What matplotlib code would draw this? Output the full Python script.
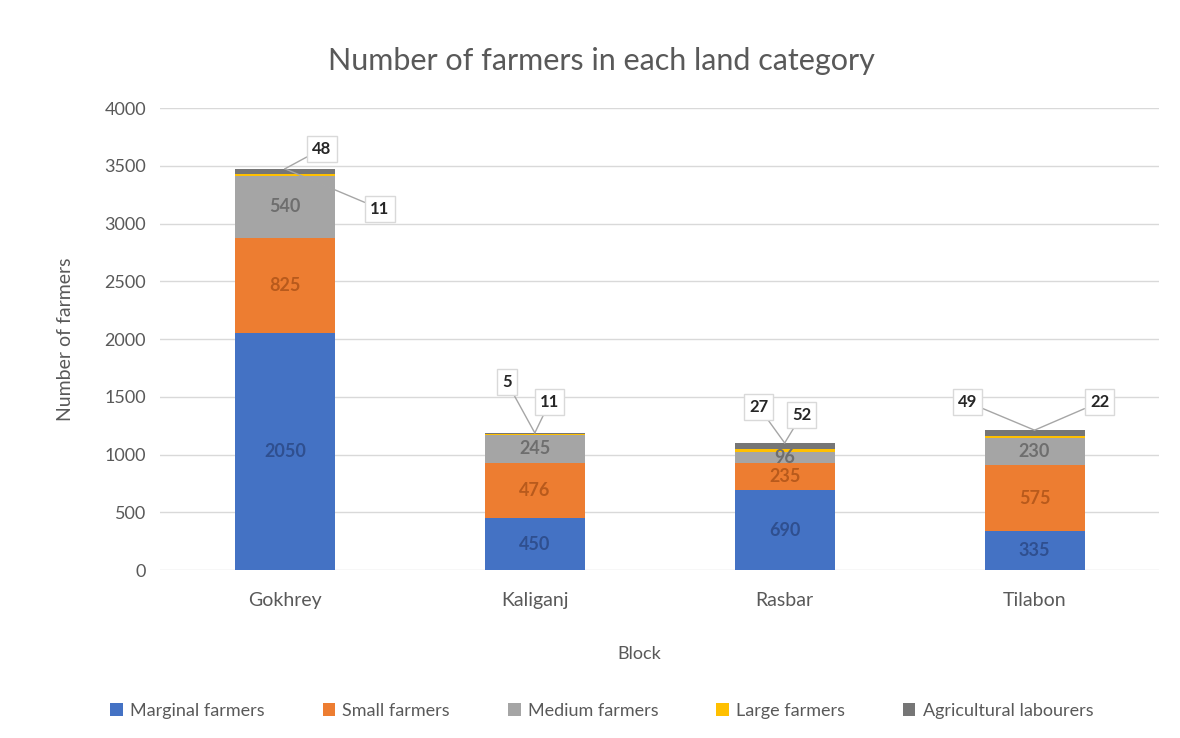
import numpy as np
import matplotlib.pyplot as plt

plt.rcParams['font.family'] = ['Lato', 'DejaVu Sans']

# Farmers per land category in each block
blocks = ["Gokhrey", "Kaliganj", "Rasbar", "Tilabon"]
marginal = [2050, 450, 690, 335]
small = [825, 476, 235, 575]
medium = [540, 245, 96, 230]
large = [11, 5, 27, 22]
agri_labourers = [48, 11, 52, 49]

series = [
    ("Marginal farmers", marginal, "#4472C4", "#2F4F8F"),
    ("Small farmers", small, "#ED7D31", "#B85A1C"),
    ("Medium farmers", medium, "#A5A5A5", "#6E6E6E"),
    ("Large farmers", large, "#FFC000", "#404040"),
    ("Agricultural labourers", agri_labourers, "#767676", "#404040"),
]

# callout offsets (pixels from the top of the stack) for the thin segments
callouts = {
    "Large farmers": [(95, -40), (-28, 51), (-26, 36), (65, 28)],
    "Agricultural labourers": [(37, 20), (15, 31), (17, 28), (-67, 28)],
}

fig = plt.figure(figsize=(11.8, 7.38), dpi=100)
ax = fig.add_axes([0.1356, 0.2276, 0.847, 0.626])

x = np.arange(len(blocks))
width = 0.4
bottom = np.zeros(len(blocks))
totals = np.sum([s[1] for s in series], axis=0)

for name, vals, color, txt_color in series:
    vals = np.array(vals)
    ax.bar(x, vals, width, bottom=bottom, color=color, label=name, zorder=2)
    if name in callouts:
        for i, v in enumerate(vals):
            dx, dy = callouts[name][i]
            ax.annotate(str(v), xy=(x[i], totals[i]), xytext=(dx, dy),
                        textcoords="offset pixels", ha="center", va="center",
                        fontsize=12, color="#262626", fontweight="bold",
                        bbox=dict(boxstyle="square,pad=0.3", fc="white", ec="#D9D9D9"),
                        arrowprops=dict(arrowstyle="-", color="#A6A6A6", lw=1,
                                        shrinkA=0, shrinkB=0),
                        zorder=4)
    else:
        for i, v in enumerate(vals):
            ax.text(x[i], bottom[i] + v / 2, str(v), ha="center", va="center",
                    fontsize=13, color=txt_color, fontweight="bold", zorder=3)
    bottom += vals

ax.set_xlim(-0.5, len(blocks) - 0.5)
ax.set_ylim(0, 4000)
ax.set_yticks(np.arange(0, 4001, 500))
ax.set_xticks(x)
ax.set_xticklabels(blocks, fontsize=14, color="#595959")
ax.tick_params(axis="y", labelsize=13, labelcolor="#595959", length=0, pad=10)
ax.tick_params(axis="x", length=0, pad=16)
ax.yaxis.grid(True, color="#D9D9D9", lw=1, zorder=0)
for s in ax.spines.values():
    s.set_visible(False)

fig.text(0.51, 0.918, "Number of farmers in each land category", fontsize=22,
         color="#595959", ha="center", va="center")
ax.set_xlabel("Block", fontsize=13, color="#595959")
ax.xaxis.set_label_coords(0.48, -0.165)
ax.set_ylabel("Number of farmers", fontsize=14, color="#595959", labelpad=22)

fig.legend(loc="center", bbox_to_anchor=(0.51, 0.037), ncol=5, frameon=False,
           fontsize=13, labelcolor="#595959", handlelength=0.7, handleheight=0.7,
           columnspacing=3.2, handletextpad=0.4)

fig.savefig("out.png", dpi=100)
